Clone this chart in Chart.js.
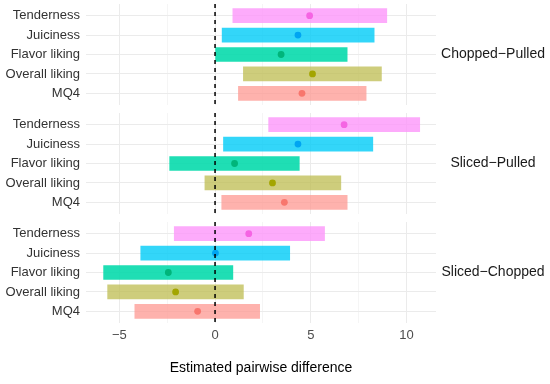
<!DOCTYPE html>
<html>
<head>
<meta charset="utf-8">
<script src="https://cdn.jsdelivr.net/npm/chart.js@4/dist/chart.umd.min.js"></script>
<style>
html,body{margin:0;padding:0;background:#fff;}
#wrap{position:relative;width:550px;height:384px;overflow:hidden;}
.panel{position:absolute;left:0;width:550px;}
</style>
</head>
<body>
<div id="wrap">
  <div class="panel" style="top:0;height:110px"><canvas id="c1"></canvas></div>
  <div class="panel" style="top:109px;height:110px"><canvas id="c2"></canvas></div>
  <div class="panel" style="top:218px;height:166px"><canvas id="c3"></canvas></div>
</div>
<script>
// ---- data ----
const attributes = ["Tenderness", "Juiciness", "Flavor liking", "Overall liking", "MQ4"];
const comparisons = ["Chopped\u2212Pulled", "Sliced\u2212Pulled", "Sliced\u2212Chopped"];
// lower CI, estimate, upper CI per comparison (order of attributes)
const choppedPulledLower = [0.93, 0.37, 0.03, 1.48, 1.22];
const choppedPulledEst   = [4.94, 4.33, 3.45, 5.09, 4.54];
const choppedPulledUpper = [8.97, 8.31, 6.90, 8.69, 7.89];
const slicedPulledLower  = [2.80, 0.44, -2.37, -0.53, 0.35];
const slicedPulledEst    = [6.74, 4.33, 1.02, 3.00, 3.62];
const slicedPulledUpper  = [10.69, 8.24, 4.40, 6.57, 6.90];
const slicedChoppedLower = [-2.13, -3.88, -5.82, -5.61, -4.19];
const slicedChoppedEst   = [1.76, 0.02, -2.44, -2.06, -0.91];
const slicedChoppedUpper = [5.72, 3.90, 0.93, 1.48, 2.33];
const xTicks = [-5, -2.5, 0, 2.5, 5, 7.5, 10];
const xLabel = "Estimated pairwise difference";

// ---- styles ----
const barColors = ["rgba(252,150,250,0.8)", "rgba(0,204,248,0.8)", "rgba(0,218,170,0.88)", "rgba(190,188,80,0.75)", "rgba(254,152,145,0.75)"];
const pointColors = ["#F564E3", "#00A5F2", "#00B57A", "#A3A500", "#F8766D"];
const FONT = "'Liberation Sans', Arial, Helvetica, sans-serif";

const stripPlugin = {
  id: 'strip',
  afterDraw(chart, args, opts) {
    const ctx = chart.ctx, a = chart.chartArea;
    ctx.save();
    ctx.font = "14px " + FONT;
    ctx.fillStyle = "#1A1A1A";
    ctx.textAlign = "center";
    ctx.textBaseline = "middle";
    ctx.fillText(opts.text, 493, (a.top + a.bottom) / 2);
    ctx.restore();
  }
};

function zeroPad(s) { s.paddingTop = 0; s.paddingBottom = 0; s.paddingLeft = 0; s.paddingRight = 0; }

function makePanel(id, idx, lower, est, upper, bottom) {
  const barData = attributes.map((a, i) => ({x: [lower[i], upper[i]], y: i}));
  const ptData = attributes.map((a, i) => ({x: est[i], y: i}));
  return new Chart(document.getElementById(id), {
    type: 'bar',
    data: {
      datasets: [
        {type: 'line', data: [{x: 0, y: -0.6}, {x: 0, y: 4.6}], borderColor: '#000', borderWidth: 1.5,
         borderDash: [4, 4], pointRadius: 0, fill: false, order: 0, clip: false},
        {type: 'scatter', data: ptData, backgroundColor: pointColors, borderWidth: 0,
         pointRadius: 3.4, pointHoverRadius: 3.4, order: 1},
        {type: 'bar', data: barData, backgroundColor: barColors, borderWidth: 0,
         barThickness: 14, order: 2, indexAxis: 'y'}
      ]
    },
    options: {
      indexAxis: 'y',
      responsive: true,
      maintainAspectRatio: false,
      animation: false,
      events: [],
      layout: {padding: {left: 0, right: 114, top: 4, bottom: bottom ? 0 : 5}},
      plugins: {legend: {display: false}, tooltip: {enabled: false}, strip: {text: comparisons[idx]}},
      scales: {
        x: {
          type: 'linear', position: 'bottom', min: -6.74, max: 11.54, offset: false,
          afterBuildTicks: s => { s.ticks = xTicks.map(v => ({value: v})); },
          afterFit: s => { s.height = bottom ? 61 : 0; zeroPad(s); },
          border: {display: false},
          grid: {drawTicks: false, offset: false,
                 color: c => (c.tick && c.tick.value % 5 === 0) ? '#EBEBEB' : '#F3F3F3',
                 lineWidth: c => (c.tick && c.tick.value % 5 === 0) ? 1 : 0.8},
          ticks: {display: bottom, padding: 5, color: '#4D4D4D', font: {family: FONT, size: 13},
                  callback: v => (v % 5 === 0) ? String(v).replace('-', '\u2212') : ''},
          title: {display: bottom, text: xLabel, color: '#000', font: {family: FONT, size: 14},
                  padding: {top: 0, bottom: 7.6}}
        },
        y: {
          type: 'linear', position: 'left', reverse: true, min: -0.6, max: 4.6, offset: false,
          afterBuildTicks: s => { s.ticks = attributes.map((a, i) => ({value: i})); },
          afterFit: s => { s.width = 86; zeroPad(s); },
          border: {display: false},
          grid: {drawTicks: false, offset: false, color: '#EBEBEB', lineWidth: 1},
          ticks: {padding: 6, color: '#333333', font: {family: FONT, size: 13},
                  callback: v => attributes[v] || ''}
        }
      }
    },
    plugins: [stripPlugin]
  });
}

makePanel('c1', 0, choppedPulledLower, choppedPulledEst, choppedPulledUpper, false);
makePanel('c2', 1, slicedPulledLower, slicedPulledEst, slicedPulledUpper, false);
makePanel('c3', 2, slicedChoppedLower, slicedChoppedEst, slicedChoppedUpper, true);
</script>
</body>
</html>
